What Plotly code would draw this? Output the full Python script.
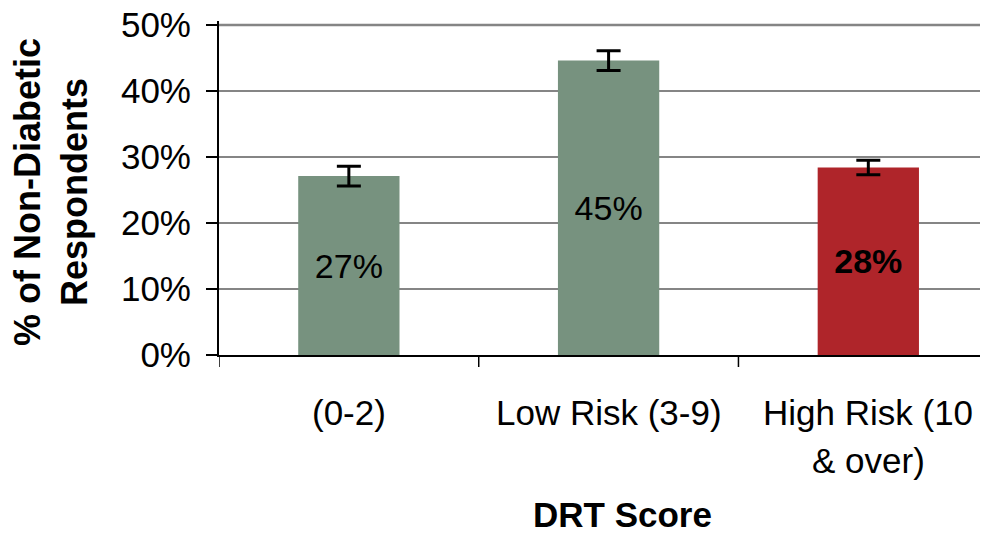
import plotly.graph_objects as go

categories = ["(0-2)", "Low Risk (3-9)", "High Risk (10<br>& over)"]
values = [27.1, 44.6, 28.4]
errors = [1.5, 1.5, 1.1]
labels = ["27%", "45%", "<b>28%</b>"]
colors = ["#77927F", "#77927F", "#AF252A"]
yticks = [0, 10, 20, 30, 40, 50]
ytick_text = ["0%", "10%", "20%", "30%", "40%", "50%"]

FONT = "Liberation Sans, Arial"
W, H = 982, 537
YMAX = 50.6
L, R, B = 219, 2, 182
PH = round(330 * YMAX / 50)
T = H - B - PH
PW = W - L - R

def px_x(fx):
    return (fx - L) / PW

def px_y(fy):
    return (H - B - fy) / PH

fig = go.Figure()
fig.add_trace(go.Bar(
    x=[0, 1, 2], y=values, width=0.39,
    marker=dict(color=colors, line=dict(width=0)),
    text=labels, textposition="inside", insidetextanchor="middle",
    textfont=dict(family=FONT, size=34, color="black"),
    textangle=0,
    error_y=dict(type="data", array=errors, visible=True, color="black",
                 thickness=3, width=12),
))

annotations = []
# category labels (one line per annotation for exact spacing)
line_y = [412, 460]
for i, cat in enumerate(categories):
    for j, line in enumerate(cat.split("<br>")):
        annotations.append(dict(
            text=line, xref="x", yref="paper", x=i, y=px_y(line_y[j]),
            xanchor="center", yanchor="middle", showarrow=False,
            font=dict(family=FONT, size=35, color="black")))
annotations += [
    dict(text="<b>% of Non-Diabetic<br>Respondents</b>", xref="paper", yref="paper",
         x=px_x(51), y=px_y(192), xanchor="center", yanchor="middle",
         textangle=-90, showarrow=False, font=dict(family=FONT, size=36, color="black")),
    dict(text="<b>DRT Score</b>", xref="paper", yref="paper",
         x=px_x(622), y=px_y(514), xanchor="center", yanchor="middle",
         showarrow=False, font=dict(family=FONT, size=35, color="black")),
]

fig.update_layout(
    width=W, height=H,
    margin=dict(l=L, r=R, t=T, b=B, autoexpand=False),
    plot_bgcolor="white", paper_bgcolor="white",
    showlegend=False,
    font=dict(family=FONT, color="black", size=34),
    xaxis=dict(
        range=[-0.5, 2.43], tickvals=[0, 1, 2], ticktext=["", "", ""],
        showgrid=False, showline=True, linecolor="black", linewidth=2,
        ticks="", zeroline=False,
    ),
    yaxis=dict(
        range=[0, YMAX], tickvals=yticks, ticktext=ytick_text,
        showgrid=True, gridcolor="#858585", gridwidth=1.5,
        showline=True, linecolor="black", linewidth=2,
        ticks="outside", ticklen=11, tickcolor="black", tickwidth=1.5,
        ticklabelstandoff=8, ticklabeloverflow="allow",
        tickfont=dict(family=FONT, size=35), zeroline=False,
    ),
    annotations=annotations,
)
# heavier gray line at 50% (top of chart)
fig.add_shape(type="line", xref="paper", yref="y", x0=0, x1=1, y0=50, y1=50,
              line=dict(color="#858585", width=2.5))
# category boundary ticks
for xb in [-0.5, 0.5, 1.5]:
    fig.add_shape(type="line", xref="x", yref="paper", x0=xb, x1=xb, y0=0, y1=-12 / PH,
                  line=dict(color="black", width=1.5))

fig.write_html("out.html", config={"displayModeBar": False},
               post_script="document.body.style.margin='0';")
